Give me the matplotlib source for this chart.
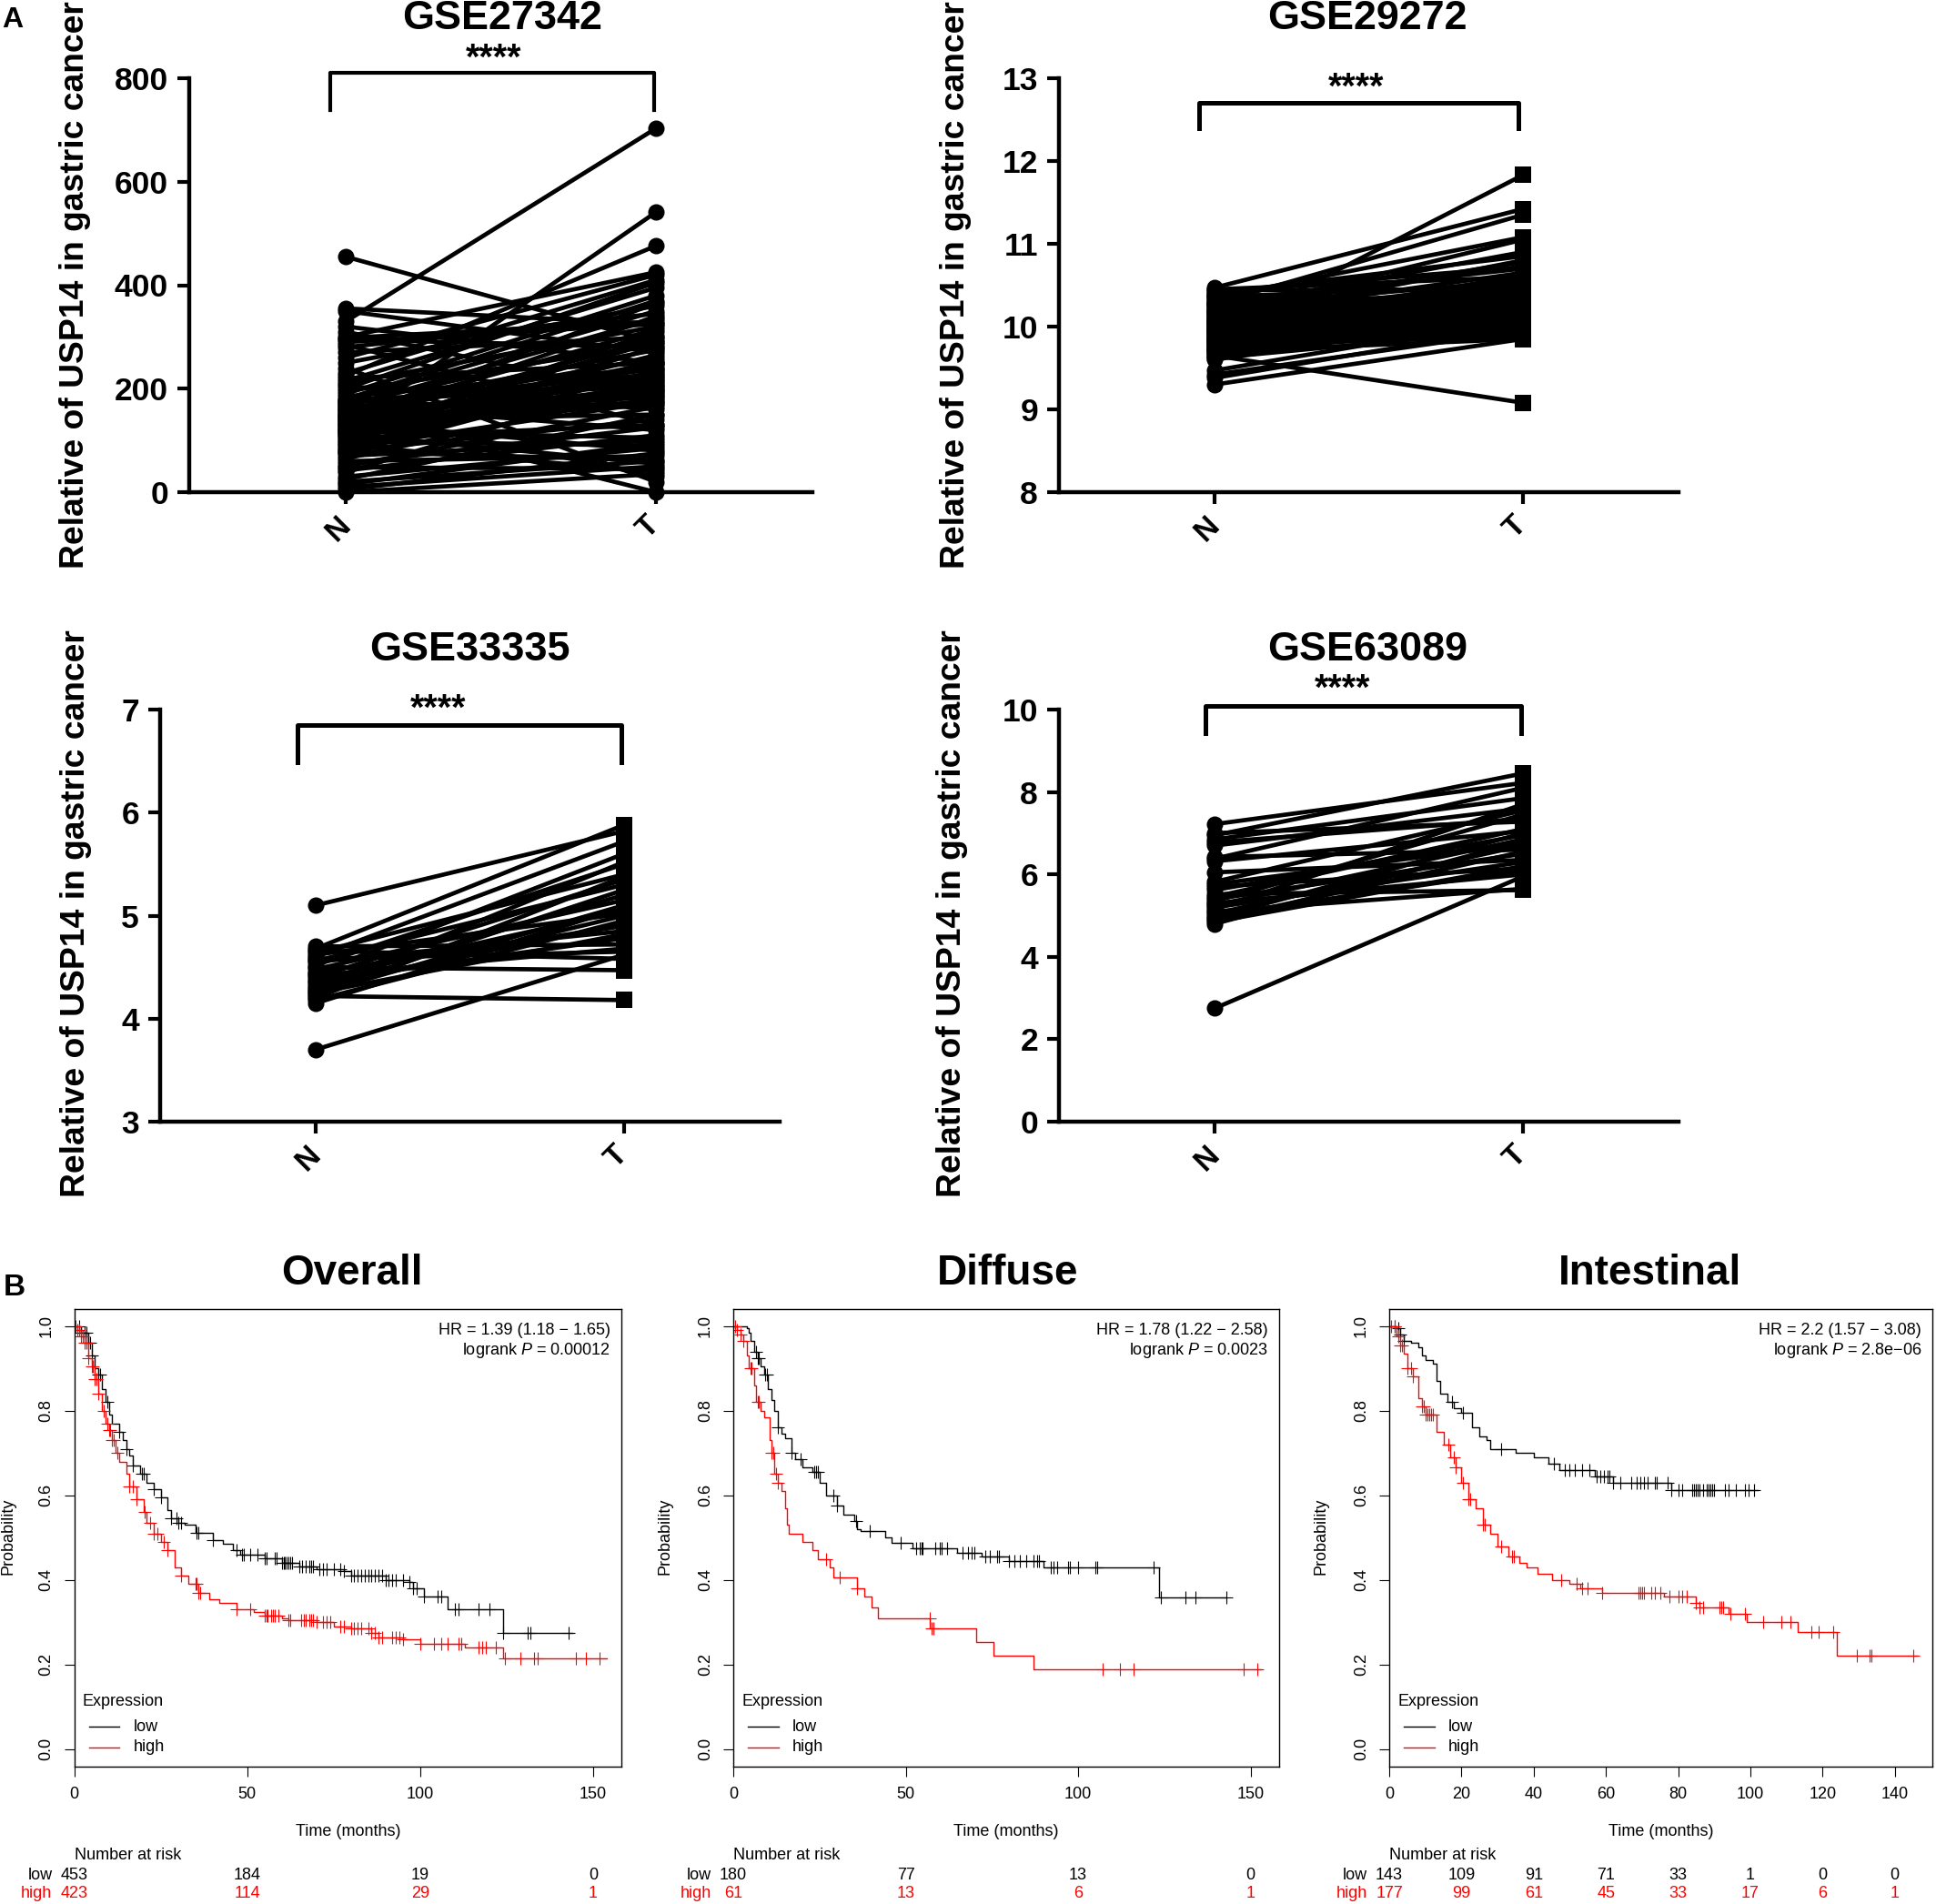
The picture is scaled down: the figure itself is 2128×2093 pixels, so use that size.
"""USP14 paired expression panels (A) and Kaplan-Meier survival panels (B)."""

import matplotlib

matplotlib.use("Agg")
import matplotlib.pyplot as plt
import numpy as np
from matplotlib.lines import Line2D
from matplotlib.transforms import ScaledTranslation

plt.rcParams["font.family"] = ["Liberation Sans", "DejaVu Sans"]
plt.rcParams["mathtext.fontset"] = "custom"
plt.rcParams["mathtext.it"] = "Liberation Sans:italic"
plt.rcParams["mathtext.rm"] = "Liberation Sans"

W, H = 2128, 2093

# --- panel A data: paired normal / tumour values
gse27342_n = [455, 355, 350, 330, 320, 310, 300, 298, 295, 290, 285, 280, 270, 260, 250, 240,
              230, 225, 220, 215, 210, 205, 200, 195, 190, 185, 180, 178, 175, 170, 168, 165,
              160, 158, 155, 152, 150, 148, 145, 142, 140, 138, 135, 132, 130, 128, 125, 122,
              120, 118, 115, 112, 110, 108, 105, 100, 98, 95, 92, 90, 85, 82, 80, 78,
              75, 70, 65, 60, 55, 50, 48, 42, 38, 30, 25, 20, 15, 10, 5, 0,
              176, 172, 166, 162, 156, 150, 146, 140, 134, 128, 122, 116]
gse27342_t = [290, 325, 270, 703, 250, 185, 425, 330, 280, 325, 130, 345, 300, 420, 360, 20,
              410, 476, 250, 395, 320, 160, 405, 285, 380, 240, 370, 210, 350, 300, 120, 335,
              275, 190, 30, 260, 0, 315, 230, 365, 150, 295, 80, 250, 340, 170, 541, 225,
              290, 105, 265, 55, 310, 200, 130, 245, 90, 280, 215, 40, 175, 255, 140, 62,
              235, 100, 195, 70, 125, 165, 45, 110, 220, 85, 150, 60, 95, 50, 75, 35,
              205, 228, 182, 238, 196, 214, 172, 222, 188, 206, 178, 198]

gse29272_n = [10.47, 10.45, 10.44, 10.42, 10.40, 10.38, 10.36, 10.35, 10.33, 10.30, 10.28, 10.26,
              10.25, 10.22, 10.20, 10.19, 10.17, 10.15, 10.13, 10.12, 10.10, 10.08, 10.07, 10.05,
              10.03, 10.02, 10.00, 9.98, 9.97, 9.95, 9.93, 9.92, 9.90, 9.88, 9.87, 9.85,
              9.83, 9.82, 9.80, 9.78, 9.76, 9.75, 9.72, 9.70, 9.68, 9.66, 9.65, 9.62,
              9.60, 9.47, 9.42, 9.38, 9.30,
              10.32, 10.29, 10.24, 10.21, 10.16, 10.11, 10.06, 10.01, 9.96, 9.91, 9.86, 9.81,
              9.77, 9.73, 9.69, 9.64, 10.37, 10.27, 10.18, 10.09, 10.04, 9.99, 9.94, 9.89,
              9.84, 9.79, 9.74, 9.71]
gse29272_t = [11.42, 10.60, 10.45, 10.72, 10.85, 10.30, 10.50, 11.08, 10.25, 10.70, 11.35, 10.10,
              10.55, 10.90, 10.40, 10.78, 10.20, 11.05, 10.65, 10.00, 10.35, 10.80, 10.15, 10.52,
              9.92, 10.45, 10.28, 10.62, 10.05, 10.38, 9.88, 11.83, 10.18, 10.48, 9.95, 10.30,
              10.58, 9.86, 10.22, 10.42, 10.02, 10.33, 10.12, 9.85, 10.25, 10.08, 9.08, 9.97,
              10.15, 10.10, 9.95, 10.00, 9.85,
              10.12, 10.05, 10.44, 9.98, 10.36, 10.02, 10.26, 10.18, 10.08, 10.32, 10.14, 10.04,
              10.24, 9.94, 10.16, 10.20, 10.28, 10.40, 9.90, 10.56, 10.22, 10.34, 10.10, 10.46,
              10.06, 10.30, 10.00, 10.12]

gse33335_n = [5.10, 4.70, 4.68, 4.66, 4.64, 4.62, 4.60, 4.58, 4.56, 4.55, 4.52, 4.50, 4.48, 4.45,
              4.44, 4.42, 4.40, 4.38, 4.36, 4.34, 4.32, 4.30, 4.28, 4.26, 4.25, 4.24, 4.22, 4.20,
              4.18, 4.15, 3.70]
gse33335_t = [5.82, 4.72, 5.88, 4.58, 5.40, 5.02, 5.72, 4.65, 5.30, 4.85, 5.50, 4.47, 5.15, 4.90,
              5.60, 4.68, 5.35, 5.05, 4.78, 5.20, 4.92, 5.52, 5.00, 5.25, 4.82, 5.10, 4.18, 5.38,
              4.95, 5.08, 4.62]

gse63089_n = [7.22, 7.00, 6.95, 6.85, 6.78, 6.70, 6.42, 6.38, 6.32, 6.05, 5.82, 5.76, 5.70, 5.62,
              5.52, 5.46, 5.40, 5.35, 5.30, 5.25, 5.20, 5.15, 5.10, 5.05, 5.00, 4.95, 4.90, 4.85,
              4.80, 2.75]
gse63089_t = [8.22, 7.28, 8.45, 7.85, 7.35, 7.60, 6.60, 8.10, 7.05, 6.35, 7.55, 6.75, 6.15, 6.95,
              5.62, 7.10, 6.50, 7.45, 6.00, 6.85, 6.30, 7.70, 5.65, 6.70, 6.10, 7.00, 6.55, 6.20,
              6.80, 5.95]

# --- panel B data: survival steps (months, probability) and censor times
overall_low_t = [0, 2, 4, 5, 6, 7, 8, 9, 10, 11, 13, 14, 15, 16, 17, 19, 21, 23, 25, 27, 28, 30,
                 32, 35, 40, 43, 46, 48, 55, 60, 65, 70, 78, 80, 90, 97, 98, 101, 108, 124, 144]
overall_low_s = [1.0, .985, .96, .93, .90, .885, .85, .82, .79, .77, .75, .73, .71, .695, .67,
                 .65, .63, .615, .595, .565, .545, .535, .53, .512, .495, .485, .47, .46, .452,
                 .44, .432, .425, .42, .41, .40, .395, .38, .36, .33, .275, .275]
overall_low_c = [1.5, 2, 3, 3.5, 4, 4.5, 5, 7, 7.5, 9.5, 13, 15, 17, 19.5, 20, 23, 25, 28, 29.5,
                 30, 31, 35.5, 36, 40, 47, 48.5, 49, 51, 53, 55, 55.5, 58, 58.5, 60, 60.5, 61,
                 61.5, 62, 62.5, 63, 65, 66, 67, 68, 68.5, 69, 71, 72, 73, 75, 77, 78, 80, 81,
                 82, 83, 84, 85, 86, 87, 88, 89, 90, 91, 92, 93, 95, 97, 98, 99, 101, 105, 106,
                 110, 111, 117, 120, 124, 131, 132, 143]
overall_high_t = [0, 1, 2, 3, 4, 5, 6, 7, 8, 9, 10, 11, 12, 13, 15, 16, 18, 20, 21, 23, 25, 27,
                  29, 31, 33, 36, 39, 42, 47, 52, 55, 60, 62, 70, 75, 80, 86, 88, 95, 100, 113,
                  124, 154]
overall_high_s = [1.0, .99, .975, .96, .925, .905, .875, .84, .80, .77, .755, .73, .70, .68, .65,
                  .62, .59, .56, .535, .51, .49, .47, .43, .41, .39, .37, .355, .345, .33, .325,
                  .315, .31, .305, .30, .29, .285, .275, .265, .26, .25, .24, .215, .215]
overall_high_c = [.5, 1, 1.5, 2, 2.5, 3, 3.5, 4, 5, 5.5, 6, 6.5, 7, 8.5, 9.5, 10, 10.5, 11, 11.5,
                  12.5, 16, 17, 18, 20.5, 22, 23, 24, 26, 27, 31, 35, 35.5, 36, 36.5, 47, 51, 55,
                  55.5, 56, 57, 57.5, 58, 59, 62, 62.5, 65.5, 66.5, 67, 68, 68.5, 69, 70, 72, 73,
                  74, 77, 78, 80, 81, 82, 83, 85, 86, 87, 88, 89, 92, 93, 94, 95, 100, 104, 106,
                  108, 111, 112, 117, 118, 119, 122, 124.5, 129, 133, 134, 145, 148, 152]

diffuse_low_t = [0, 4, 4.5, 5, 6, 7, 8, 9, 10, 11, 12, 13, 14, 15, 17, 18, 20, 23, 25, 27, 30, 32,
                 35, 36, 37, 44, 46, 52, 65, 72, 80, 90, 123.5, 143]
diffuse_low_s = [1.0, .995, .985, .965, .94, .925, .905, .885, .85, .825, .80, .76, .745, .735,
                 .70, .685, .665, .655, .63, .60, .575, .555, .54, .52, .515, .50, .487, .475,
                 .465, .455, .445, .43, .358, .358]
diffuse_low_c = [6.5, 7, 7.5, 9.3, 9.8, 13, 17, 19.5, 23.5, 24, 24.5, 29, 30, 35.5, 39.5, 48.5,
                 53, 54, 54.5, 55, 58.5, 60, 60.5, 62, 66.5, 68, 69, 70, 73, 74.5, 76.5, 77, 80,
                 81.5, 83, 85, 87, 88, 88.7, 92, 93, 94, 97, 97.5, 100, 105, 105.5, 122, 124,
                 131, 134, 143]
diffuse_high_t = [0, 1, 2, 3, 4, 4.5, 6, 6.5, 8, 9, 10.5, 11, 12, 13, 14, 15, 15.5, 16, 20, 23,
                  24.5, 28, 29, 36, 38, 40, 42, 57, 70.5, 75.5, 87, 153]
diffuse_high_s = [1.0, .99, .98, .965, .93, .90, .86, .82, .80, .785, .73, .70, .65, .63, .61,
                  .57, .53, .51, .49, .47, .45, .43, .407, .38, .36, .335, .31, .285, .253, .222,
                  .19, .19]
diffuse_high_c = [.5, 1, 2, 3, 5, 5.3, 7, 7.5, 11, 11.5, 12.5, 13, 27, 31, 36, 56.9, 57.5, 58,
                  107, 112, 116, 148, 152]

intestinal_low_t = [0, 2, 3, 4, 6, 8, 9, 10, 12, 13, 14, 16, 18, 20, 23, 25, 27, 28, 35, 40, 44,
                    47, 57, 62, 78, 102]
intestinal_low_s = [1.0, .995, .98, .965, .96, .95, .93, .92, .91, .87, .84, .82, .805, .795,
                    .76, .74, .73, .71, .70, .69, .675, .66, .645, .63, .612, .612]
intestinal_low_c = [1.5, 2.5, 3, 4, 17.5, 20.5, 31, 45.5, 48.5, 50, 51.5, 53.5, 55.5, 57.5, 58.5,
                    59.5, 60.5, 61, 62, 64, 67, 68.5, 69.5, 70.5, 71.5, 73.5, 74, 77, 78, 80, 81,
                    84, 84.5, 85, 85.5, 86, 87, 88, 88.5, 89, 89.5, 90, 93, 94, 96, 98.5, 99.5,
                    101]
intestinal_high_t = [0, 2, 3, 4, 5, 6.5, 8, 9, 10, 13, 15, 17, 18.5, 20, 22, 24, 26, 28, 30, 33,
                     36, 38, 41, 45, 50, 53, 59, 76, 85, 86, 94, 99, 113, 124, 146]
intestinal_high_s = [1.0, .975, .955, .935, .90, .88, .83, .81, .79, .75, .72, .69, .665, .63,
                     .59, .57, .53, .51, .48, .455, .44, .43, .415, .40, .39, .38, .37, .36, .345,
                     .335, .32, .30, .278, .222, .222]
intestinal_high_c = [.5, 1.5, 2.5, 3, 3.5, 5, 6, 6.5, 9, 9.5, 10, 10.5, 11, 11.5, 12, 16.5, 18,
                     18.5, 20.5, 22, 22.5, 26, 26.5, 31, 34, 34.5, 47.5, 52, 53.5, 55, 59, 69,
                     69.5, 70, 70.5, 72.5, 73.5, 75, 77.5, 80, 81, 82.5, 85, 86, 87, 91.5, 92,
                     92.5, 94.5, 98.5, 103.5, 108.5, 111, 117, 119, 123, 129.5, 133, 133.5, 145]

overall_ticks = [0, 50, 100, 150]
intestinal_ticks = [0, 20, 40, 60, 80, 100, 120, 140]
overall_risk_low = [453, 184, 19, 0]
overall_risk_high = [423, 114, 29, 1]
diffuse_risk_low = [180, 77, 13, 0]
diffuse_risk_high = [61, 13, 6, 1]
intestinal_risk_low = [143, 109, 91, 71, 33, 1, 0, 0]
intestinal_risk_high = [177, 99, 61, 45, 33, 17, 6, 1]


def px_axes(fig, left, top, right, bottom):
    """Axes from a box given in image pixels (origin top left)."""
    return fig.add_axes([left / W, 1 - bottom / H, (right - left) / W, (bottom - top) / H])


def paired_panel(fig, box, title, title_xy, ylab_xy, n, t, t_marker, yticks,
                 bracket_x, bracket_y, star_xy, bracket_lw):
    left, top, right, bottom = box
    ax = px_axes(fig, left, top, right, bottom)
    for a, b in zip(n, t):
        ax.plot([0, 1], [a, b], color="k", lw=3.4, clip_on=False, zorder=3)
    ax.plot(np.zeros(len(n)), n, "o", color="k", ms=13, mew=0, clip_on=False, zorder=4)
    ax.plot(np.ones(len(t)), t, t_marker, color="k", ms=12.5 if t_marker == "s" else 13,
            mew=0, clip_on=False, zorder=4)

    ax.set_xlim(-0.505, 1.505)
    ax.set_ylim(yticks[0], yticks[-1])
    ax.set_yticks(yticks)
    ax.set_xticks([0, 1])
    ax.set_xticklabels(["N", "T"], rotation=45, fontsize=24, fontweight="bold")
    ax.tick_params(axis="y", length=9.5, width=3, labelsize=25.5, pad=7)
    ax.tick_params(axis="x", length=9, width=3, pad=6)
    shift = ScaledTranslation(-8 / 100, 0, fig.dpi_scale_trans)
    for label in ax.get_xticklabels():
        label.set_transform(label.get_transform() + shift)
    for label in ax.get_yticklabels():
        label.set_fontweight("bold")
    for side in ("top", "right"):
        ax.spines[side].set_visible(False)
    for side in ("left", "bottom"):
        ax.spines[side].set_linewidth(3.2)

    # significance bracket
    ax.plot([bracket_x[0], bracket_x[0], bracket_x[1], bracket_x[1]],
            [bracket_y[0], bracket_y[1], bracket_y[1], bracket_y[0]],
            color="k", lw=bracket_lw, clip_on=False, solid_joinstyle="round")

    fig.text(star_xy[0] / W, 1 - star_xy[1] / H, "****", fontsize=28.5, fontweight="bold",
             ha="center", va="center")
    fig.text(title_xy[0] / W, 1 - title_xy[1] / H, title, fontsize=32.4, fontweight="bold",
             ha="center", va="center")
    ax.set_ylabel("Relative of USP14 in gastric cancer", fontsize=26.8, fontweight="bold", va="center")
    ax.yaxis.set_label_coords((ylab_xy[0] - left) / (right - left),
                              (bottom - ylab_xy[1]) / (bottom - top))
    return ax


def km_panel(fig, box, title, title_x, ylab_x, xmax, ticks, low, high, risk_low, risk_high, hr, logrank):
    left, top, right, bottom = box
    ax = px_axes(fig, left, top, right, bottom)
    for (times, surv, cens), color in ((low, "k"), (high, "red")):
        times = np.array(times)
        surv = np.array(surv)
        cens = np.array(cens)
        ax.step(times, surv, where="post", color=color, lw=1.0)
        at = surv[np.searchsorted(times, cens, side="right") - 1]
        ax.plot(cens, at, "+", color=color, ms=10, mew=0.8)

    ax.set_xlim(0, xmax)
    ax.set_ylim(-0.041, 1.04)
    ax.set_xticks(ticks)
    ax.set_yticks([0, 0.2, 0.4, 0.6, 0.8, 1.0])
    ax.tick_params(axis="both", length=8, width=0.8, labelsize=13, pad=8)
    for label in ax.get_yticklabels():
        label.set_rotation(90)
        label.set_va("center")
    for spine in ax.spines.values():
        spine.set_linewidth(1.0)

    ax.text(0.98, 0.953, hr, transform=ax.transAxes, ha="right", va="center", fontsize=13)
    ax.text(0.98, 0.91, logrank, transform=ax.transAxes, ha="right", va="center", fontsize=13)

    # legend, placed by hand the way the R original sits
    key = ax.get_yaxis_transform()
    ax.text(0.0156, 0.112, "Expression", transform=key, ha="left", va="center", fontsize=13)
    for name, y, color in (("low", 0.053, "k"), ("high", 0.005, "red")):
        ax.add_line(Line2D([0.027, 0.083], [y, y], transform=key, color=color, lw=1.0))
        ax.text(0.108, y, name, transform=key, ha="left", va="center", fontsize=13)

    # texts below the frame, blended x-data / y-axes
    trans = ax.get_xaxis_transform()
    h = bottom - top
    ax.text(0.5, (bottom - 2014) / h, "Time (months)", transform=ax.transAxes,
            ha="center", va="center", fontsize=13)
    ax.text(0, (bottom - 2040) / h, "Number at risk", transform=trans, ha="left", va="center", fontsize=13)
    row_y = {"low": (bottom - 2061) / h, "high": (bottom - 2082) / h}
    for name, row, color in (("low", risk_low, "k"), ("high", risk_high, "red")):
        ax.text(-24 / (right - left), row_y[name], name, transform=ax.transAxes, ha="right",
                va="center", fontsize=13, color=color)
        for tick, value in zip(ticks, row):
            ax.text(tick, row_y[name], str(value), transform=trans, ha="center", va="center",
                    fontsize=13, color=color)

    fig.text(title_x / W, 1 - 1400 / H, title, fontsize=33, fontweight="bold", ha="center", va="center")
    fig.text(ylab_x / W, 1 - ((top + bottom) / 2 - 2) / H, "Probability", rotation=90, fontsize=13,
             ha="center", va="center")
    return ax


def main():
    fig = plt.figure(figsize=(W / 100, H / 100), dpi=100)

    paired_panel(fig, (208, 86, 893, 541), "GSE27342", (552, 21), (83, 313),
                 gse27342_n, gse27342_t, "o", [0, 200, 400, 600, 800],
                 (-0.05, 0.995), (738, 810), (543, 65), 3.0)
    paired_panel(fig, (1164, 86, 1845, 541), "GSE29272", (1503, 21), (1051, 313),
                 gse29272_n, gse29272_t, "s", [8, 9, 10, 11, 12, 13],
                 (-0.05, 0.985), (12.4, 12.7), (1491, 97), 3.6)
    paired_panel(fig, (176, 780, 857, 1233), "GSE33335", (516, 714), (84, 1004),
                 gse33335_n, gse33335_t, "s", [3, 4, 5, 6, 7],
                 (-0.06, 0.99), (6.49, 6.85), (482, 780), 3.6)
    paired_panel(fig, (1164, 780, 1845, 1233), "GSE63089", (1503, 714), (1047, 1004),
                 gse63089_n, gse63089_t, "s", [0, 2, 4, 6, 8, 10],
                 (-0.03, 0.995), (9.42, 10.08), (1476, 758), 3.6)

    km_panel(fig, (81.5, 1439, 683, 1942), "Overall", 387, 9, 158.2, overall_ticks,
             (overall_low_t, overall_low_s, overall_low_c),
             (overall_high_t, overall_high_s, overall_high_c),
             overall_risk_low, overall_risk_high,
             "HR = 1.39 (1.18 − 1.65)", r"logrank $\mathit{P}$ = 0.00012")
    km_panel(fig, (806, 1439, 1406, 1942), "Diffuse", 1108, 731, 158.3, overall_ticks,
             (diffuse_low_t, diffuse_low_s, diffuse_low_c),
             (diffuse_high_t, diffuse_high_s, diffuse_high_c),
             diffuse_risk_low, diffuse_risk_high,
             "HR = 1.78 (1.22 − 2.58)", r"logrank $\mathit{P}$ = 0.0023")
    km_panel(fig, (1527, 1439, 2124, 1942), "Intestinal", 1813, 1452, 150.4, intestinal_ticks,
             (intestinal_low_t, intestinal_low_s, intestinal_low_c),
             (intestinal_high_t, intestinal_high_s, intestinal_high_c),
             intestinal_risk_low, intestinal_risk_high,
             "HR = 2.2 (1.57 − 3.08)", r"logrank $\mathit{P}$ = 2.8e−06")

    fig.text(2 / W, 1 - 22 / H, "A", fontsize=23, fontweight="bold", ha="left", va="center")
    fig.text(4 / W, 1 - 1415 / H, "B", fontsize=24, fontweight="bold", ha="left", va="center")

    fig.savefig("out.png", dpi=100)
    plt.close(fig)


if __name__ == "__main__":
    main()
